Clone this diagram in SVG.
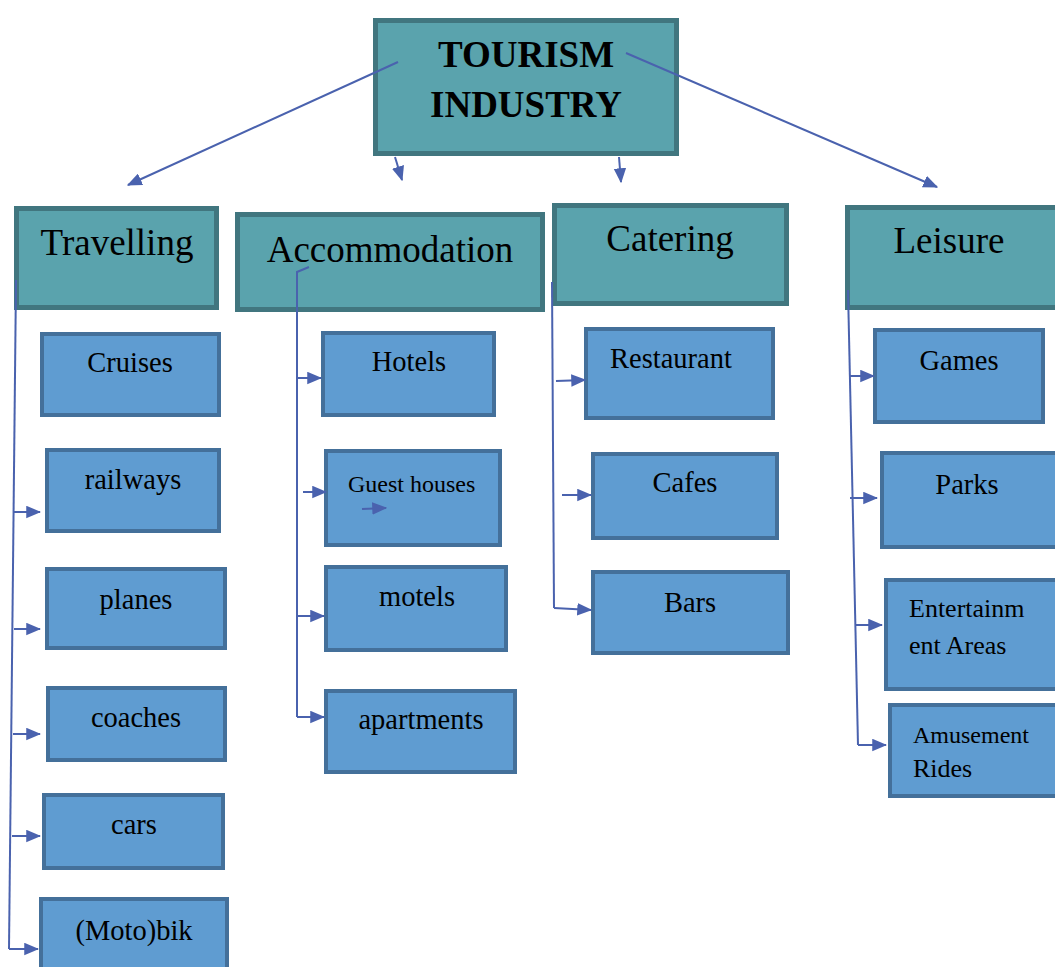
<svg xmlns="http://www.w3.org/2000/svg" width="1055" height="967" viewBox="0 0 1055 967">
<defs>
<marker id="ah" viewBox="0 0 12 10" refX="11" refY="5" markerWidth="15" markerHeight="13" markerUnits="userSpaceOnUse" orient="auto">
<path d="M0,0 L12,5 L0,10 Z" fill="#4A62AE"/>
</marker>
<style>
.top{fill:#5AA3AD;stroke:#41767F;stroke-width:5}
.cat{fill:#5AA3AD;stroke:#41767F;stroke-width:5}
.leaf{fill:#5F9CD1;stroke:#44709A;stroke-width:4}
text{font-family:"Liberation Serif","Times New Roman",serif;fill:#000}
.t1{font-size:37px;font-weight:bold;text-anchor:middle}
.t2{font-size:37px;text-anchor:middle}
.t3{font-size:28.5px;text-anchor:middle}
.t4{font-size:26px}
.t5{font-size:24px}
.con{fill:none;stroke:#4A62AE;stroke-width:2}
.arr{fill:none;stroke:#4A62AE;stroke-width:2;marker-end:url(#ah)}
</style>
</defs>
<rect width="1055" height="967" fill="#fff"/>

<g id="tourism">
<rect class="top" x="375.5" y="20.5" width="301" height="133"/>
<text class="t1" x="526" y="67">TOURISM</text>
<text class="t1" x="526" y="117">INDUSTRY</text>
</g>

<g id="travelling">
<rect class="cat" x="16.5" y="208.5" width="200" height="99"/>
<text class="t2" x="117" y="255">Travelling</text>
</g>
<g id="accommodation">
<rect class="cat" x="237.5" y="214.5" width="305" height="95"/>
<text class="t2" x="390" y="262">Accommodation</text>
</g>
<g id="catering">
<rect class="cat" x="554.5" y="205.5" width="232" height="98"/>
<text class="t2" x="670" y="251">Catering</text>
</g>
<g id="leisure">
<rect class="cat" x="847.5" y="207.5" width="215" height="100"/>
<text class="t2" x="949" y="253">Leisure</text>
</g>

<g id="cruises"><rect class="leaf" x="42" y="334" width="177" height="81"/><text class="t3" x="130" y="372">Cruises</text></g>
<g id="railways"><rect class="leaf" x="47" y="450" width="172" height="81"/><text class="t3" x="133" y="489">railways</text></g>
<g id="planes"><rect class="leaf" x="47" y="569" width="178" height="79"/><text class="t3" x="136" y="609">planes</text></g>
<g id="coaches"><rect class="leaf" x="48" y="688" width="177" height="72"/><text class="t3" x="136" y="727">coaches</text></g>
<g id="cars"><rect class="leaf" x="44" y="795" width="179" height="73"/><text class="t3" x="134" y="834">cars</text></g>
<g id="motobik"><rect class="leaf" x="41" y="899" width="186" height="80"/><text class="t3" x="134" y="940">(Moto)bik</text></g>

<g id="hotels"><rect class="leaf" x="323" y="333" width="171" height="82"/><text class="t3" x="409" y="371">Hotels</text></g>
<g id="guesthouses"><rect class="leaf" x="326" y="451" width="174" height="94"/><text class="t5" x="348" y="492">Guest houses</text></g>
<g id="motels"><rect class="leaf" x="326" y="567" width="180" height="83"/><text class="t3" x="417" y="606">motels</text></g>
<g id="apartments"><rect class="leaf" x="326" y="691" width="189" height="81"/><text class="t3" x="421" y="729">apartments</text></g>

<g id="restaurant"><rect class="leaf" x="586" y="329" width="187" height="89"/><text class="t3" x="610" y="368" style="text-anchor:start">Restaurant</text></g>
<g id="cafes"><rect class="leaf" x="593" y="454" width="184" height="84"/><text class="t3" x="685" y="492">Cafes</text></g>
<g id="bars"><rect class="leaf" x="593" y="572" width="195" height="81"/><text class="t3" x="690" y="612">Bars</text></g>

<g id="games"><rect class="leaf" x="875" y="330" width="168" height="92"/><text class="t3" x="959" y="370">Games</text></g>
<g id="parks"><rect class="leaf" x="882" y="453" width="180" height="94"/><text class="t3" x="967" y="494">Parks</text></g>
<g id="entertainment"><rect class="leaf" x="886" y="580" width="176" height="109"/><text class="t4" x="909" y="617">Entertainm</text><text class="t4" x="909" y="654">ent Areas</text></g>
<g id="amusement"><rect class="leaf" x="890" y="705" width="172" height="91"/><text class="t5" x="913" y="743">Amusement</text><text class="t4" x="913" y="777">Rides</text></g>

<g id="connectors">
<line class="arr" x1="398" y1="62" x2="128" y2="185"/>
<line class="arr" x1="626" y1="53" x2="937" y2="187"/>
<line class="arr" x1="395" y1="157" x2="402" y2="180"/>
<line class="arr" x1="619" y1="157" x2="621" y2="182"/>

<polyline class="con" points="16,280 9,949"/>
<line class="arr" x1="14" y1="512" x2="40" y2="512"/>
<line class="arr" x1="14" y1="629" x2="40" y2="629"/>
<line class="arr" x1="13" y1="734" x2="40" y2="734"/>
<line class="arr" x1="12" y1="836" x2="40" y2="836"/>
<line class="arr" x1="9" y1="949" x2="38" y2="949"/>

<polyline class="con" points="309,267 297,272 297,717"/>
<line class="arr" x1="297" y1="378" x2="321" y2="378"/>
<line class="arr" x1="303" y1="492" x2="326" y2="492"/>
<line class="arr" x1="297" y1="616" x2="324" y2="616"/>
<line class="arr" x1="297" y1="717" x2="324" y2="717"/>
<line class="arr" x1="362" y1="509" x2="386" y2="508"/>

<polyline class="con" points="552,282 554,608"/>
<line class="arr" x1="556" y1="381" x2="585" y2="380"/>
<line class="arr" x1="562" y1="495" x2="591" y2="495"/>
<line class="arr" x1="554" y1="608" x2="591" y2="610"/>

<polyline class="con" points="848,290 858,745"/>
<line class="arr" x1="849" y1="376" x2="874" y2="376"/>
<line class="arr" x1="850" y1="498" x2="877" y2="498"/>
<line class="arr" x1="855" y1="625" x2="882" y2="625"/>
<line class="arr" x1="858" y1="745" x2="886" y2="745"/>
</g>
</svg>
